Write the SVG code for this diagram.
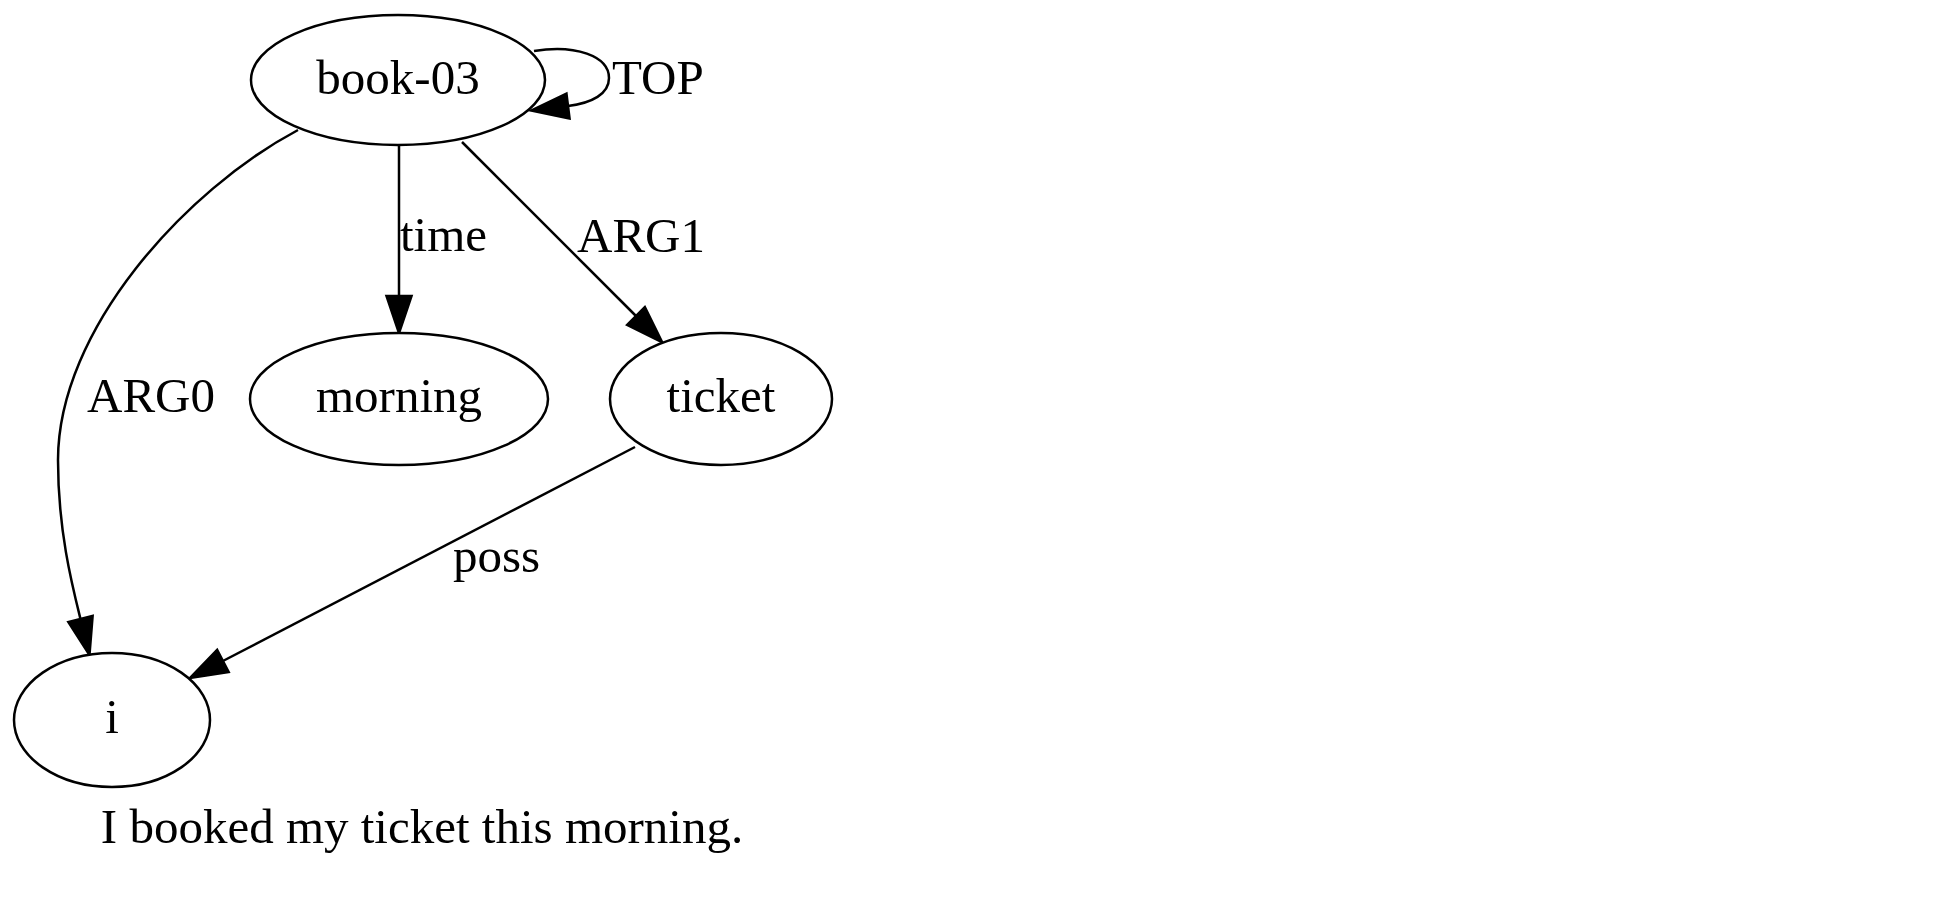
<svg xmlns="http://www.w3.org/2000/svg" width="1958" height="908" viewBox="0 0 1958 908">
<style>
.node ellipse{fill:#ffffff;stroke:#000000;stroke-width:2.5}
text{font-family:"Liberation Serif","Times New Roman",serif;font-size:49px;fill:#000000}
.node text{text-anchor:middle}
.edge path{fill:none;stroke:#000000;stroke-width:2.5;marker-end:url(#arrow)}
</style>
<defs>
<marker id="arrow" markerUnits="userSpaceOnUse" viewBox="-2 -16 42 32" refX="0" refY="0" markerWidth="42" markerHeight="32" orient="auto" overflow="visible">
<path d="M0,-12.5 L37,0 L0,12.5 Z" fill="#000000" stroke="#000000" stroke-width="2.5"/>
</marker>
</defs>
<rect x="0" y="0" width="1958" height="908" fill="#ffffff"/>
<g id="connectors" class="edge">
<path id="e-top" d="M534,51 C575,44 609,56 609,78 C609,94 592,103 568,106"/>
<path id="e-time" d="M399,146 L399,296"/>
<path id="e-arg1" d="M462,142 L636,316"/>
<path id="e-arg0" d="M298,130 C185,190 58,330 58,460 C58,530 72,585 80.5,619"/>
<path id="e-poss" d="M635,447 L222.9,661"/>
<text x="612" y="94">TOP</text>
<text x="400" y="251">time</text>
<text x="577" y="252">ARG1</text>
<text x="87" y="412">ARG0</text>
<text x="453" y="572">poss</text>
</g>
<g id="node-book03" class="node">
<ellipse cx="398" cy="80" rx="147" ry="65"/>
<text x="398" y="94">book-03</text>
</g>
<g id="node-morning" class="node">
<ellipse cx="399" cy="399" rx="149" ry="66"/>
<text x="399" y="412">morning</text>
</g>
<g id="node-ticket" class="node">
<ellipse cx="721" cy="399" rx="111" ry="66"/>
<text x="721" y="412">ticket</text>
</g>
<g id="node-i" class="node">
<ellipse cx="112" cy="720" rx="98" ry="67"/>
<text x="112" y="733">i</text>
</g>
<text id="caption" x="422" y="843" text-anchor="middle">I booked my ticket this morning.</text>
</svg>
